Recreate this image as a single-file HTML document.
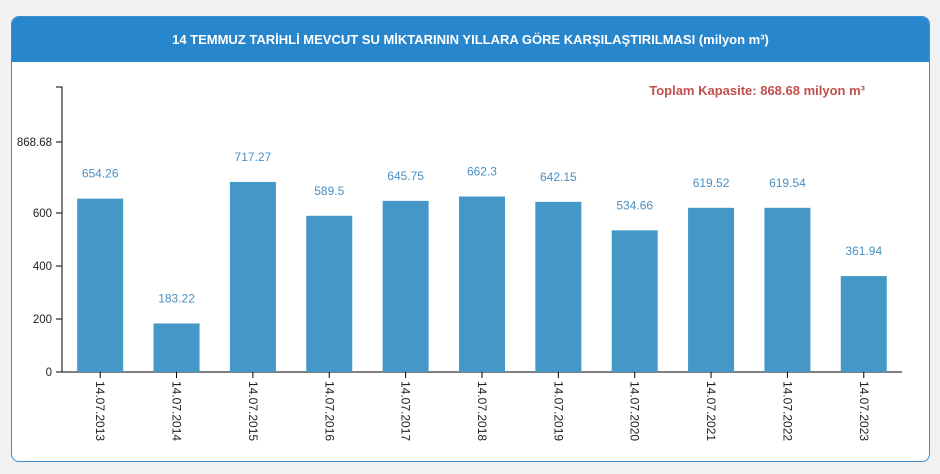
<!DOCTYPE html>
<html><head><meta charset="utf-8"><style>
body{margin:0;background:#f1f1f1;width:940px;height:474px;overflow:hidden;font-family:"Liberation Sans",sans-serif}
.p{position:absolute;left:11px;top:16px;width:917px;height:444px;background:#fff;border:1px solid #3a8fcf;border-radius:8px;overflow:hidden}
.h{height:45px;background:#2886cc;color:#fff;font-weight:bold;font-size:13px;text-align:center;line-height:46px}
</style></head><body>
<div class="p"><div class="h">14 TEMMUZ TARİHLİ MEVCUT SU MİKTARININ YILLARA GÖRE KARŞILAŞTIRILMASI (milyon m³)</div></div>
<svg width="940" height="474" style="position:absolute;left:0;top:0" font-family="Liberation Sans, sans-serif">
<text x="865" y="95" text-anchor="end" fill="#c0504d" font-weight="bold" font-size="13">Toplam Kapasite: 868.68 milyon m³</text>
<g stroke="#000" fill="none"><path d="M56 87H62V372M56 372H902"/><path d="M56 142H62M56 213H62M56 266H62M56 319H62"/></g>
<g font-size="11.5" text-anchor="end" fill="#222"><text x="52" y="146">868.68</text><text x="52" y="217">600</text><text x="52" y="270">400</text><text x="52" y="323">200</text><text x="52" y="376">0</text></g>
<g id="b"></g>
</svg>
<script>
var v=[654.26,183.22,717.27,589.5,645.75,662.3,642.15,534.66,619.52,619.54,361.94],s='';
v.forEach(function(d,i){var c=62+76.36*(i+.5),h=d*0.265,t=372-h;
s+='<rect x="'+(c-23)+'" y="'+t+'" width="46" height="'+h+'" fill="#4497c6"/>';
s+='<text x="'+c+'" y="'+(t-21)+'" text-anchor="middle" font-size="12" fill="#4a8fc0">'+d+'</text>';
s+='<line x1="'+c+'" y1="372" x2="'+c+'" y2="378" stroke="#000"/>';
s+='<text transform="translate('+(c-4)+',381) rotate(90)" font-size="12" fill="#222">14.07.'+(2013+i)+'</text>';});
document.getElementById('b').innerHTML=s;
</script>
</body></html>
